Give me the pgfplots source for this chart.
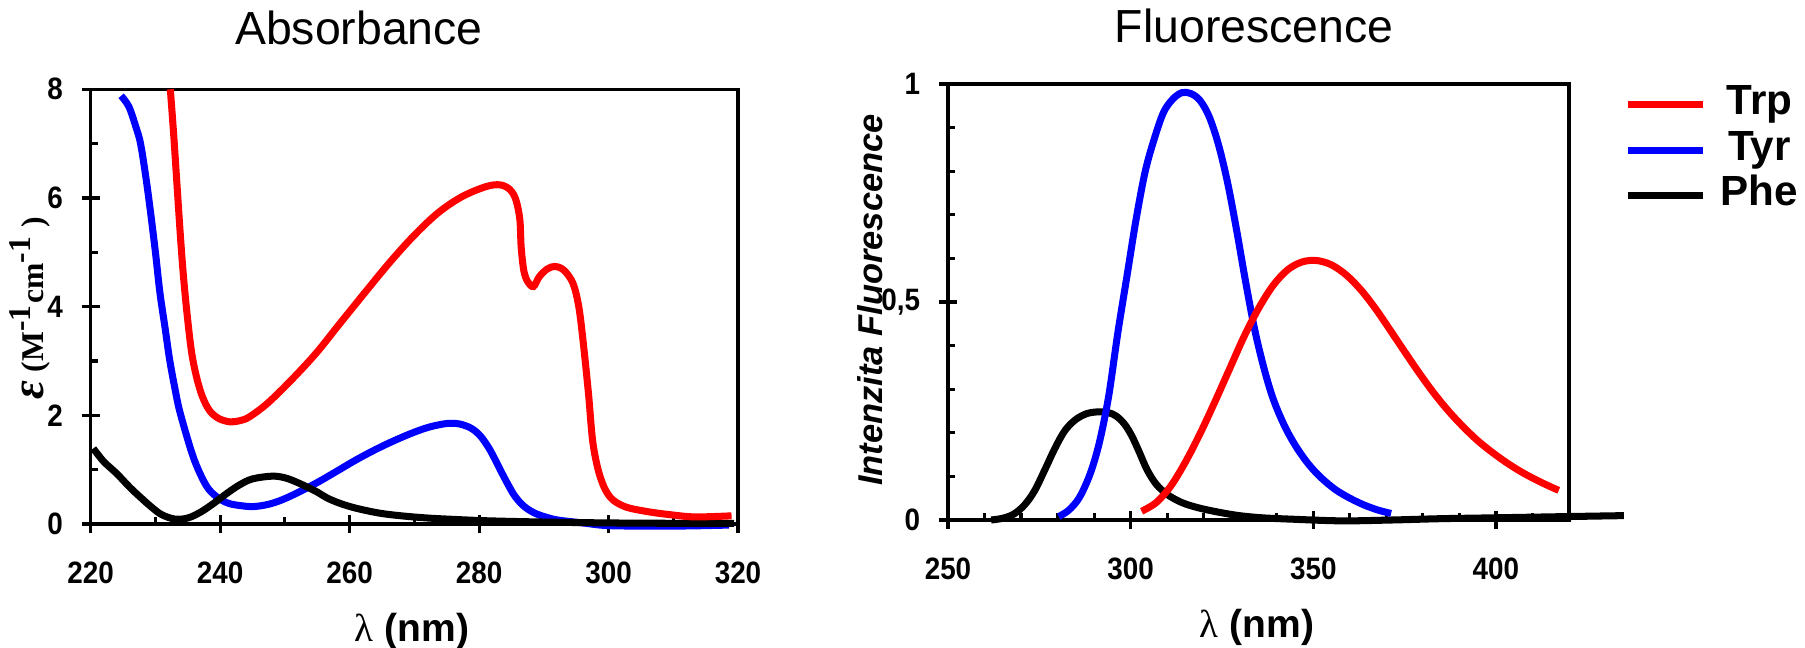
\documentclass[border=0pt]{standalone}
\usepackage{fontspec}
\setmainfont{Liberation Sans}
\newfontfamily\timesfont{Liberation Serif}
\newfontfamily\tickfont[FakeStretch=0.9]{Liberation Sans}
\usepackage{pgfplots}
\pgfplotsset{compat=1.18}

\pgfplotsset{
  mystyle/.style={
    scale only axis,
    axis line style={line width=1pt},
    tick style={line width=0.9pt, black},
    tick align=center,
    major tick length=0.18cm,
    minor tick length=0.07cm,
    minor x tick style={yshift=0.035cm},
    minor y tick style={xshift=0.035cm},
    xtick pos=bottom, ytick pos=left,
    ticklabel style={font=\tickfont\bfseries\fontsize{8.8}{10}\selectfont},
    /pgf/number format/assume math mode=true,
    xticklabel style={yshift=-0.17cm},
    yticklabel style={xshift=-0.065cm},
    clip=false,
    every axis plot/.append style={line width=2pt, smooth, tension=0.55, no marks},
  }
}

\begin{document}
\begin{tikzpicture}
\path[use as bounding box] (0,0) rectangle (18.05cm,6.48cm);

% ---------------- Absorbance ----------------
\begin{axis}[mystyle,
  at={(0.907cm,1.24cm)}, anchor=south west,
  width=6.473cm, height=4.347cm,
  xmin=220, xmax=320, ymin=0, ymax=8,
  xtick={220,240,...,320}, minor xtick={230,250,...,310},
  ytick={0,2,...,8}, minor ytick={1,3,5,7},
]
\addplot[blue] coordinates {
(224.7,7.88)(225.9,7.68)(227.0,7.30)(227.7,7.0)(228.5,6.4)(229.2,5.78)(230.0,5.0)
(230.7,4.25)(231.5,3.6)(232.2,3.02)(233.0,2.5)(233.7,2.10)(235,1.55)(236.0,1.18)
(237.2,0.85)(238.3,0.63)(239.8,0.47)(241.3,0.38)(243,0.34)(245.0,0.32)(247,0.35)
(248.8,0.41)(251,0.52)(254.8,0.75)(258,0.97)(261,1.18)(264,1.37)(267,1.54)(270,1.69)
(272.5,1.79)(275.1,1.85)(277,1.84)(278.8,1.76)(280.2,1.62)(281.5,1.40)(282.5,1.18)
(283.3,0.99)(284.5,0.72)(285.6,0.50)(287,0.32)(288.6,0.20)(290.5,0.12)(292.3,0.07)
(296,0.02)(299.9,-0.03)(307.4,-0.04)(313,-0.035)(318.6,-0.02)
};
\addplot[black] coordinates {
(220.4,1.39)(222,1.15)(224,0.93)(226,0.68)(227.6,0.50)(229.5,0.30)(231,0.17)(233,0.09)
(235,0.11)(237,0.22)(239,0.38)(241,0.56)(243,0.72)(245,0.83)(248,0.88)(250,0.85)
(252,0.76)(254.8,0.60)(256.5,0.48)(258.5,0.38)(261,0.29)(264.6,0.20)(268,0.15)
(272,0.11)(276,0.085)(281,0.06)(288,0.04)(296,0.025)(305,0.015)(319.4,0.01)
};
\addplot[red] coordinates {
(232.3,8.0)(232.8,7.2)(233.3,6.3)(233.8,5.4)(234.3,4.6)(234.9,3.85)(235.6,3.15)
(236.4,2.68)(237.3,2.33)(238.4,2.08)(239.8,1.94)(241.5,1.88)(243.0,1.90)(244.5,1.97)
(247.3,2.22)(251.0,2.65)(254.8,3.14)(258.5,3.69)(262.3,4.25)(266.1,4.80)(269.8,5.29)
(273.6,5.72)(277.3,6.02)(281.1,6.21)(283.3,6.24)(284.8,6.15)(285.7,5.96)(286.3,5.60)
(286.5,5.10)(286.9,4.67)(287.5,4.46)(288.4,4.37)(289.3,4.55)(290.5,4.69)(291.7,4.74)
(293.1,4.67)(294.5,4.43)(295.4,4.0)(296.1,3.33)(296.9,2.40)(297.6,1.48)(298.7,0.87)
(300.2,0.50)(302.5,0.32)(305.9,0.23)(309.6,0.17)(313.4,0.13)(319.0,0.15)
};
\end{axis}

% ---------------- Fluorescence ----------------
\begin{axis}[mystyle,
  at={(9.48cm,1.28cm)}, anchor=south west,
  width=6.21cm, height=4.36cm,
  xmin=250, xmax=420, ymin=0, ymax=1,
  xtick={250,300,350,400},
  minor xtick={260,270,280,290,310,320,330,340,360,370,380,390,410},
  ytick={0,0.5,1}, yticklabels={0,{0,5},1},
  minor ytick={0.1,0.2,0.3,0.4,0.6,0.7,0.8,0.9},
  reverse legend,
  legend style={at={(rel axis cs:1.0886,1.0)}, anchor=north west,
    draw=none, fill=none, inner sep=0pt,
    font=\fontsize{12}{14}\selectfont\bfseries,
    nodes={inner sep=0pt, text height=0.3cm, text depth=0.1cm},
    row sep=0.055cm, column sep=0.14cm},
  legend image code/.code={\draw[#1, line width=2pt, sharp plot] (0cm,0cm) -- (0.75cm,0cm);},
]
\addplot[black] coordinates {
(261.8,0.0)(265,0.004)(268.1,0.014)(271,0.035)(273.7,0.067)(276.5,0.115)(279.3,0.165)
(282,0.205)(284.9,0.230)(288,0.244)(291.2,0.248)(294,0.246)(296.1,0.238)(298.3,0.22)
(300.3,0.193)(302.4,0.155)(304.5,0.115)(307,0.082)(310.1,0.058)(314,0.04)(318.5,0.028)
(324,0.018)(329.7,0.010)(336,0.005)(343.7,0.002)(357.7,-0.002)(371.7,0.0)(385,0.003)
(399.7,0.005)(420.7,0.008)(435,0.01)
};
\addlegendentry{Phe}
\addplot[blue] coordinates {
(280.3,0.008)(283,0.022)(286,0.052)(289,0.108)(291.5,0.18)(294,0.285)(296.5,0.43)
(299,0.56)(301.5,0.69)(304,0.80)(306.5,0.875)(309,0.935)(311.5,0.965)(314,0.980)
(316.5,0.978)(319,0.962)(321.5,0.925)(324,0.862)(326.5,0.775)(329,0.665)(331.5,0.545)
(334,0.435)(336.5,0.348)(339,0.278)(342,0.218)(345,0.172)(348.5,0.130)(352,0.098)
(356,0.070)(360,0.050)(364,0.034)(368,0.022)(371.3,0.015)
};
\addlegendentry{Tyr}
\addplot[red] coordinates {
(303,0.020)(307,0.040)(311,0.078)(315,0.133)(319,0.198)(323,0.270)(327,0.345)
(331,0.420)(335,0.485)(339,0.538)(343,0.574)(347,0.592)(351,0.595)(355,0.585)
(359,0.562)(363,0.528)(367,0.485)(371,0.436)(375,0.386)(379,0.337)(383,0.291)
(387,0.250)(391,0.214)(395,0.182)(399,0.155)(403,0.131)(407,0.110)(411,0.092)
(415,0.076)(417.2,0.068)
};
\addlegendentry{Trp}
\end{axis}

% titles and labels
\node[anchor=base, font=\fontsize{13.2}{15}\selectfont] at (3.59cm,6.03cm) {Absorbance};
\node[anchor=base, font=\fontsize{13.2}{15}\selectfont] at (12.54cm,6.05cm) {Fluorescence};
\node[anchor=base, font=\fontsize{11.1}{13}\selectfont\bfseries] at (4.12cm,0.06cm) {{\timesfont\mdseries λ} (nm)};
\node[anchor=base, font=\fontsize{11.1}{13}\selectfont\bfseries] at (12.57cm,0.10cm) {{\timesfont\mdseries λ} (nm)};
\node[rotate=90, font=\fontsize{9}{11}\selectfont\timesfont\bfseries] at (0.30cm,3.40cm)
  {{\fontsize{13}{13}\selectfont\itshape ε} (M$^{\textbf{-1}}$cm$^{\textbf{-1}}$ )};
\node[rotate=90, font=\fontsize{9.8}{12}\selectfont\bfseries\itshape] at (8.70cm,3.48cm)
  {Intenzita Fluorescence};
\end{tikzpicture}
\end{document}
